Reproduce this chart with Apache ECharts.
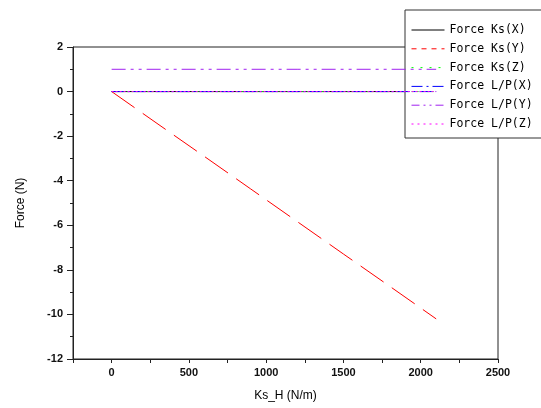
<!DOCTYPE html>
<html>
<head>
<meta charset="utf-8">
<script src="https://cdn.jsdelivr.net/npm/echarts@6/dist/echarts.min.js"></script>
<style>
  html, body { margin: 0; padding: 0; background: #fff; }
  #chart { width: 541px; height: 408px; }
</style>
</head>
<body>
<div id="chart"></div>
<script>
// Horizontal stiffness sweep (N/m)
const ksH = [0, 300, 600, 900, 1200, 1500, 1800, 2100];

// Force components (N) at each stiffness value
const forceKsX = [0, 0, 0, 0, 0, 0, 0, 0];
const forceKsY = [0, -1.46, -2.91, -4.37, -5.83, -7.29, -8.74, -10.2];
const forceKsZ = [0, 0, 0, 0, 0, 0, 0, 0];
const forceLPX = [0, 0, 0, 0, 0, 0, 0, 0];
const forceLPY = [1, 1, 1, 1, 1, 1, 1, 1];
const forceLPZ = [0, 0, 0, 0, 0, 0, 0, 0];

const seriesNames = ['Force Ks(X)', 'Force Ks(Y)', 'Force Ks(Z)', 'Force L/P(X)', 'Force L/P(Y)', 'Force L/P(Z)'];
const seriesValues = [forceKsX, forceKsY, forceKsZ, forceLPX, forceLPY, forceLPZ];
const seriesColors = ['#000000', '#ff0000', '#00ff00', '#0000ff', '#a020f0', '#ff00ff'];
// dash patterns used on the plot and inside the legend box
const plotDash = ['solid', [28, 10], [2, 3], [12, 4, 2, 4], [14, 5, 3, 5, 3, 5], [2, 2]];
const legendDash = ['solid', [5, 5], [2, 7], [11, 4, 2, 4], [8, 4, 2, 4, 2, 4], [2, 4]];

const xLabelValues = [0, 500, 1000, 1500, 2000, 2500];

const font = 'Liberation Sans, Arial, sans-serif';
const legendFont = 'DejaVu Sans Mono, monospace';

const chart = echarts.init(document.getElementById('chart'), null, { renderer: 'canvas' });

const series = seriesNames.map((name, i) => ({
  name: name,
  type: 'line',
  showSymbol: false,
  symbol: 'none',
  animation: false,
  data: ksH.map((x, j) => [x, seriesValues[i][j]]),
  lineStyle: { color: seriesColors[i], width: 1, type: plotDash[i] },
  itemStyle: { color: seriesColors[i] },
  z: 2 + i
}));

chart.setOption({
  backgroundColor: '#ffffff',
  animation: false,
  grid: {
    left: 73, right: 43, top: 47, bottom: 49,
    show: true, borderColor: '#222', borderWidth: 1, backgroundColor: 'transparent'
  },
  xAxis: {
    type: 'value',
    min: -250, max: 2500, interval: 250,
    name: 'Ks_H (N/m)',
    nameLocation: 'middle',
    nameGap: 31,
    nameTextStyle: { fontFamily: font, fontSize: 12, color: '#000' },
    axisLine: { show: true, onZero: false, lineStyle: { color: '#222', width: 1 } },
    axisTick: { show: true, inside: false, length: 4, lineStyle: { color: '#222' } },
    axisLabel: {
      margin: 8, fontFamily: font, fontSize: 11, fontWeight: 'bold', color: '#111',
      formatter: v => (xLabelValues.indexOf(v) >= 0 ? String(v) : '')
    },
    splitLine: { show: false }
  },
  yAxis: {
    type: 'value',
    min: -12, max: 2, interval: 2,
    name: 'Force (N)',
    nameLocation: 'middle',
    nameGap: 46,
    nameTextStyle: { fontFamily: font, fontSize: 12, color: '#000' },
    axisLine: { show: true, onZero: false, lineStyle: { color: '#222', width: 1 } },
    axisTick: { show: true, inside: false, length: 6, lineStyle: { color: '#222' } },
    minorTick: { show: true, splitNumber: 2, length: 3, lineStyle: { color: '#222' } },
    axisLabel: { margin: 10, fontFamily: font, fontSize: 11, fontWeight: 'bold', color: '#111' },
    splitLine: { show: false }
  },
  legend: {
    orient: 'vertical',
    left: 405,
    top: 10,
    padding: [14, 14, 8, 6],
    itemGap: 6.8,
    itemWidth: 33,
    itemHeight: 12,
    backgroundColor: '#ffffff',
    borderColor: '#333',
    borderWidth: 1,
    borderRadius: 0,
    textStyle: { fontFamily: legendFont, fontSize: 11.5, color: '#000' },
    data: seriesNames.map((name, i) => ({
      name: name,
      itemStyle: { color: 'transparent', borderColor: 'transparent', borderWidth: 0, opacity: 0 },
      lineStyle: { color: seriesColors[i], width: 1, type: legendDash[i] }
    }))
  },
  series: series
});
</script>
</body>
</html>
